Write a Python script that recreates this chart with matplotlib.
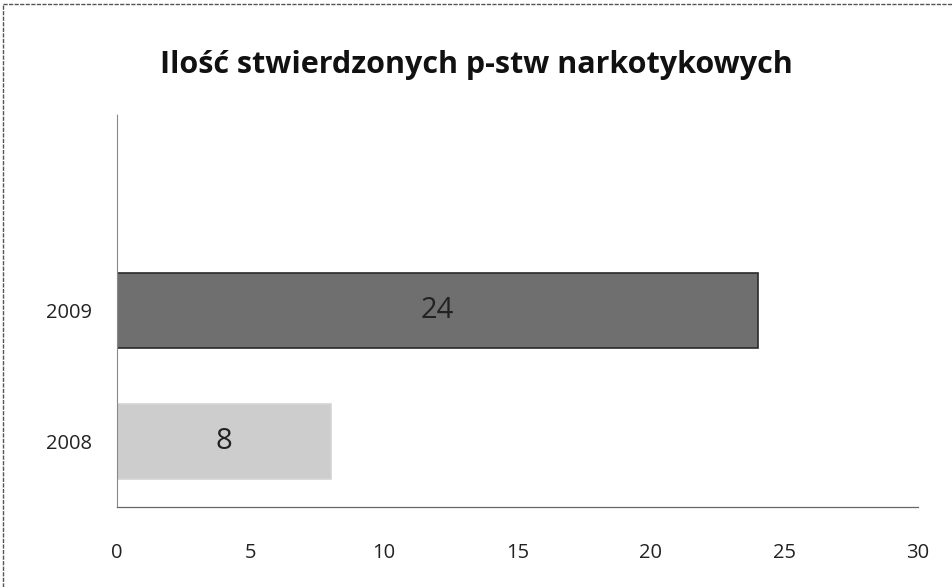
import matplotlib.pyplot as plt
from matplotlib.lines import Line2D

years = ['2008', '2009']
counts = [8, 24]
bar_colors = ['#cdcdcd', '#6f6f6f']
edge_colors = ['#d4d4d4', '#2a2a2a']

plt.rcParams['font.family'] = ['Open Sans', 'DejaVu Sans']

fig = plt.figure(figsize=(9.52, 5.87), dpi=100)
ax = fig.add_axes([117 / 952, 1 - 507 / 587, (918 - 117) / 952, (507 - 114) / 587])

bars = ax.barh(range(len(years)), counts, height=0.58, color=bar_colors,
               edgecolor=edge_colors, linewidth=1.2)
for b, v in zip(bars, counts):
    ax.text(v / 2, b.get_y() + b.get_height() / 2, str(v), ha='center', va='center',
            fontsize=21, color='#222222')

ax.set_xlim(0, 30)
ax.set_ylim(-0.5, 2.5)
ax.set_xticks(range(0, 31, 5))
ax.set_yticks(range(len(years)))
ax.set_yticklabels(years)
ax.tick_params(length=0, labelsize=14.5, colors='#222222')
ax.tick_params(axis='x', pad=26)
ax.tick_params(axis='y', pad=18)
for s in ['top', 'right']:
    ax.spines[s].set_visible(False)
ax.spines['left'].set_color('#888888')
ax.spines['left'].set_linewidth(0.8)
ax.spines['left'].set_linestyle((0, (2, 1)))
ax.spines['bottom'].set_color('#666666')
ax.spines['bottom'].set_linewidth(0.9)

fig.text(0.5, 1 - 65 / 587, 'Ilość stwierdzonych p-stw narkotykowych', ha='center',
         va='center', fontsize=22, fontweight='bold', color='#111111')

# outer frame (left and top edges only)
frame_style = dict(transform=fig.transFigure, color='#555555', linewidth=1.0,
                   linestyle=(0, (3, 1)))
fig.lines.append(Line2D([3 / 952, 3 / 952], [0, 1 - 4 / 587], **frame_style))
fig.lines.append(Line2D([3 / 952, 1], [1 - 4 / 587, 1 - 4 / 587], **frame_style))

fig.savefig('out.png', dpi=100)
